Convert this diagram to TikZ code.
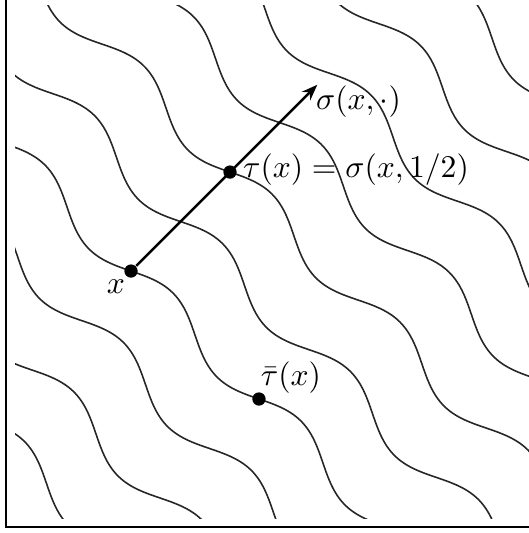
\documentclass[tikz,border=0pt]{standalone}
\usepackage{amsmath, amssymb}
\usepackage{tikz}
\usetikzlibrary{arrows.meta}
\tikzset{%
  punto/.style ={circle, fill=black, inner sep=0pt, minimum size=4.2pt},
  curva/.style ={draw=black!85, line width=0.5pt},
  flarr/.style ={-{Stealth[length=5pt]}, line width=0.8pt},
  marco/.style ={draw=black, line width=0.6pt},
  etiq/.style  ={inner sep=0pt}
}
\begin{document}
\begin{tikzpicture}
  \clip (-0.067,-0.067) rectangle (5.811,5.856);
  \draw[marco] (0,0) rectangle (5.9,5.9);
  % familia de curvas
  \begin{scope}
    \clip (0.1,0.09) rectangle (5.9,5.79);
    \foreach \j in {-3,...,6}{
      \draw[curva, domain=-6:6, samples=241, smooth, variable=\s]
        plot ({1.389+0.55*(\j)+\s+0.111*sin(253.2*\s)},
              {2.844+0.55*(\j)-\s+0.111*sin(253.2*\s)});
    }
  \end{scope}
  \node[punto] (x) at (1.389,2.844) {};
  \node[punto] (tau) at (2.489,3.944) {};
  \node[punto] (taub) at (2.811,1.422) {};
  \coordinate (sig) at (3.459,4.914);
  \draw[flarr] (x) -- (sig);
  \node[etiq] (xl) at (1.222,2.667) {$x$};
  \node[etiq] (sigl) at (3.917,4.728) {$\sigma(x,\cdot)$};
  \node[etiq] (taul) at (3.889,3.967) {$\tau(x)=\sigma(x,1/2)$};
  \node[etiq] (taubl) at (3.166,1.665) {$\bar{\tau}(x)$};
\end{tikzpicture}
\end{document}
